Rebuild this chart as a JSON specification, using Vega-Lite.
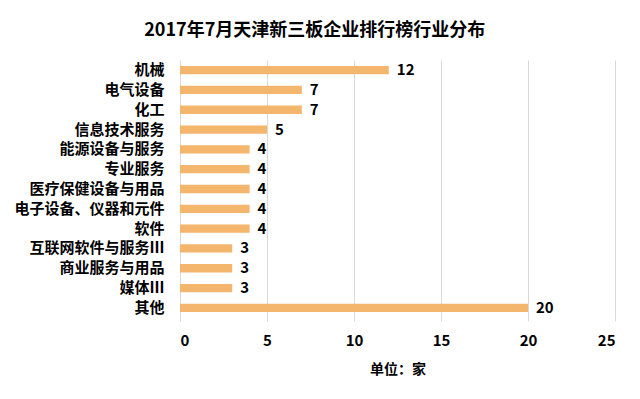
{
  "$schema": "https://vega.github.io/schema/vega-lite/v6.json",
  "width": 435,
  "height": 258,
  "autosize": {"type": "none"},
  "padding": {"left": 180, "top": 60, "right": 25, "bottom": 81},
  "background": "white",
  "title": {
    "text": "2017年7月天津新三板企业排行榜行业分布",
    "font": "Noto Sans CJK SC",
    "fontSize": 18,
    "fontWeight": "bold",
    "color": "#000000",
    "anchor": "middle",
    "frame": "bounds",
    "offset": 20
  },
  "config": {
    "view": {"stroke": null},
    "font": "Noto Sans CJK SC"
  },
  "data": {
    "values": [
      {"industry": "机械", "count": 12},
      {"industry": "电气设备", "count": 7},
      {"industry": "化工", "count": 7},
      {"industry": "信息技术服务", "count": 5},
      {"industry": "能源设备与服务", "count": 4},
      {"industry": "专业服务", "count": 4},
      {"industry": "医疗保健设备与用品", "count": 4},
      {"industry": "电子设备、仪器和元件", "count": 4},
      {"industry": "软件", "count": 4},
      {"industry": "互联网软件与服务Ⅲ", "count": 3},
      {"industry": "商业服务与用品", "count": 3},
      {"industry": "媒体Ⅲ", "count": 3},
      {"industry": "其他", "count": 20}
    ]
  },
  "encoding": {
    "y": {
      "field": "industry",
      "type": "nominal",
      "sort": null,
      "scale": {"paddingInner": 0.58, "paddingOuter": 0.3},
      "axis": {
        "title": null,
        "domain": false,
        "ticks": false,
        "labelPadding": 16,
        "labelFontSize": 15,
        "labelFontWeight": "bold",
        "labelColor": "#000000",
        "labelFont": "Noto Sans CJK SC"
      }
    },
    "x": {
      "field": "count",
      "type": "quantitative",
      "scale": {"domain": [0, 25], "nice": false},
      "axis": {
        "values": [0, 5, 10, 15, 20, 25],
        "title": "单位：家",
        "titleFontSize": 14,
        "titleFontWeight": "bold",
        "titleColor": "#000000",
        "titlePadding": 14,
        "domain": false,
        "ticks": true,
        "tickColor": "#d9d9d9",
        "tickSize": 3,
        "grid": true,
        "gridColor": "#d9d9d9",
        "labelPadding": 12,
        "labelFontSize": 15,
        "labelFontWeight": "bold",
        "labelColor": "#000000",
        "labelFont": "Noto Sans CJK SC"
      }
    }
  },
  "layer": [
    {"mark": {"type": "bar", "color": "#F4B56C"}},
    {
      "mark": {
        "type": "text",
        "align": "left",
        "baseline": "middle",
        "dx": 8,
        "fontSize": 15,
        "fontWeight": "bold",
        "color": "#000000"
      },
      "encoding": {"text": {"field": "count", "type": "quantitative"}}
    }
  ]
}
